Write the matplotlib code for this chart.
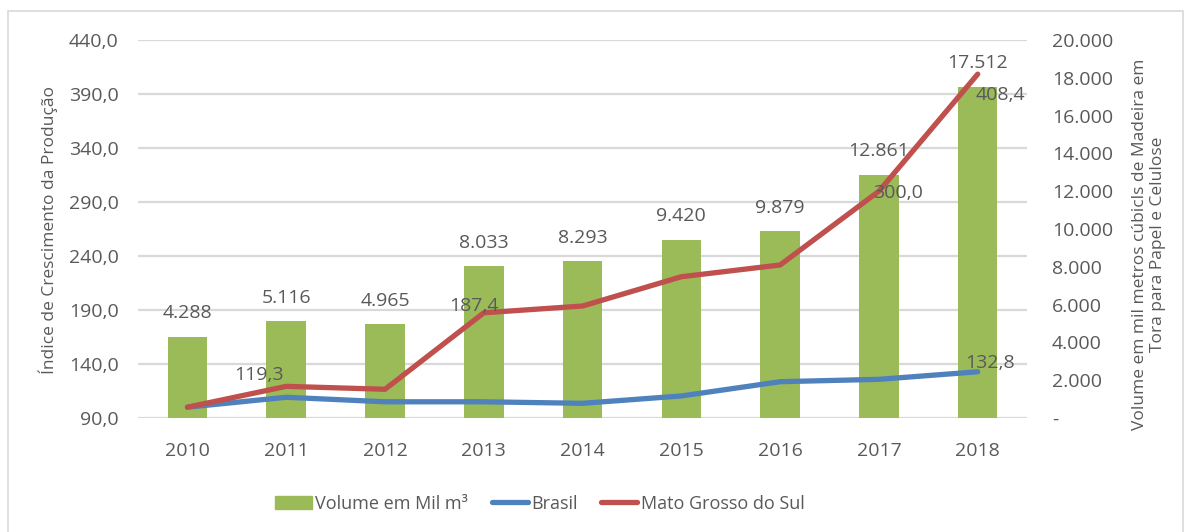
import numpy as np
import matplotlib.pyplot as plt
import matplotlib.transforms as mtransforms
from matplotlib.patches import Rectangle, Patch

# dados
anos = ["2010", "2011", "2012", "2013", "2014", "2015", "2016", "2017", "2018"]
volume = [4288, 5116, 4965, 8033, 8293, 9420, 9879, 12861, 17512]
brasil = [100.0, 109.2, 105.0, 105.0, 103.6, 110.4, 123.6, 125.8, 132.8]
ms = [100.0, 119.3, 116.6, 187.4, 193.7, 220.8, 231.7, 300.0, 408.4]
volume_labels = ["4.288", "5.116", "4.965", "8.033", "8.293", "9.420", "9.879", "12.861", "17.512"]
left_ticks = [90, 140, 190, 240, 290, 340, 390, 440]
right_ticks = [0, 2000, 4000, 6000, 8000, 10000, 12000, 14000, 16000, 18000, 20000]

cinza = "#595959"
verde = "#9BBB59"
azul = "#4F81BD"
vermelho = "#C0504D"
grade = "#D9D9D9"

plt.rcParams['font.family'] = ['Open Sans', 'DejaVu Sans']

fig = plt.figure(figsize=(11.87, 5.32), dpi=100)
ax = fig.add_axes([0.1163, 0.2143, 0.749, 0.7105])
ax2 = ax.twinx()
# linhas por cima das barras
ax.set_zorder(ax2.get_zorder() + 1)
ax.patch.set_visible(False)

x = np.arange(len(anos))

# barras (eixo direito)
ax2.bar(x, volume, width=0.4, color=verde, zorder=2)
ax2.set_ylim(0, 20000)
ax2.set_yticks(right_ticks)
ax2.set_yticklabels(["-"] + [f"{v:,}".replace(",", ".") for v in right_ticks[1:]])
for xi, v, lab in zip(x, volume, volume_labels):
    ax2.annotate(lab, (xi, v), xytext=(0, 17), textcoords="offset points",
                 ha="center", va="center", fontsize=14, color=cinza, zorder=3)

# grade seguindo o eixo esquerdo, atras das barras
blend = mtransforms.blended_transform_factory(ax2.transAxes, ax.transData)
for t in left_ticks:
    ax2.plot([0, 1], [t, t], transform=blend, color=grade, linewidth=1.6, zorder=1)

# linhas (eixo esquerdo)
ax.plot(x, brasil, color=azul, linewidth=3.8, solid_capstyle="round", label="Brasil")
ax.plot(x, ms, color=vermelho, linewidth=3.8, solid_capstyle="round", label="Mato Grosso do Sul")
ax.set_ylim(90, 440)
ax.set_yticks(left_ticks)
ax.set_yticklabels([f"{v:.1f}".replace(".", ",") for v in left_ticks])
ax.set_xlim(-0.5, 8.5)
ax.set_xticks(x)
ax.set_xticklabels(anos)

# rotulos das linhas
ax.annotate("119,3", (1, ms[1]), xytext=(-20, 8), textcoords="offset points",
            ha="center", va="center", fontsize=14, color=cinza)
ax.annotate("187,4", (3, ms[3]), xytext=(-7, 5), textcoords="offset points",
            ha="center", va="center", fontsize=14, color=cinza)
ax.annotate("300,0", (7, ms[7]), xytext=(14, -1), textcoords="offset points",
            ha="center", va="center", fontsize=14, color=cinza)
ax.annotate("408,4", (8, ms[8]), xytext=(16, -15), textcoords="offset points",
            ha="center", va="center", fontsize=14, color=cinza)
ax.annotate("132,8", (8, brasil[8]), xytext=(9, 6), textcoords="offset points",
            ha="center", va="center", fontsize=14, color=cinza)

for a in (ax, ax2):
    for s in a.spines.values():
        s.set_visible(False)
    a.tick_params(length=0, labelsize=14, labelcolor=cinza)
ax.tick_params(axis="y", pad=14)
ax.tick_params(axis="x", pad=17)
ax2.tick_params(axis="y", pad=18)

fig.text(0.041, 0.568, "Índice de Crescimento da Produção", rotation=90,
         ha="center", va="center", fontsize=12.5, color=cinza)
fig.text(0.968, 0.541, "Volume em mil metros cúbicls de Madeira em\nTora para Papel e Celulose",
         rotation=90, ha="center", va="center", multialignment="center",
         fontsize=12.5, color=cinza, linespacing=1.1)

handles = [Patch(color=verde), ax.lines[0], ax.lines[1]]
labels = ["Volume em Mil m³", "Brasil", "Mato Grosso do Sul"]
leg = fig.legend(handles, labels, loc="center", bbox_to_anchor=(0.455, 0.053), ncol=3,
                 frameon=False, fontsize=13, handlelength=2.0, handletextpad=0.2,
                 columnspacing=1.3)
for t in leg.get_texts():
    t.set_color(cinza)

fig.patches.append(Rectangle((0.007, -0.01), 0.99, 0.99, transform=fig.transFigure,
                             fill=False, edgecolor="#D9D9D9", linewidth=1.2))

fig.savefig("out.png", dpi=100)
